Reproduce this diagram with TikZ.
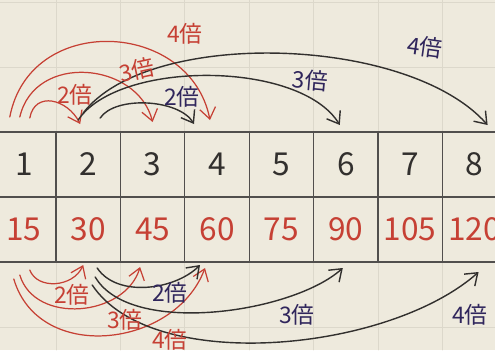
\documentclass[tikz,border=0pt]{standalone}
\usepackage{fontspec}
\setmainfont{Noto Sans CJK JP}
\usetikzlibrary{arrows.meta,positioning,calc}
\definecolor{paper}{RGB}{238,234,221}
\definecolor{gridgray}{RGB}{220,216,203}
\definecolor{inkred}{RGB}{198,64,52}
\definecolor{inkblack}{RGB}{50,48,46}
\definecolor{inknavy}{RGB}{48,38,92}

\begin{document}
\begin{tikzpicture}[>={Straight Barb[length=2.2mm,width=3.2mm]},line cap=round,
  cellbox/.style={draw=inkblack!85,line width=0.7pt,minimum width=1.288cm,minimum height=1.3cm,
    inner sep=0pt,outer sep=0pt,font=\fontsize{18}{18}\selectfont},
  redarc/.style={->,inkred,line width=0.7pt},
  blkarc/.style={->,inkblack,line width=0.8pt},
  redlbl/.style={inkred,font=\fontsize{13}{13}\selectfont},
  navylbl/.style={inknavy,font=\fontsize{13}{13}\selectfont}]
\fill[paper] (0,0) rectangle (9.9,7);
\useasboundingbox (0,0) rectangle (9.9,7);
% paper grid
\foreach \i in {-1,...,7} \draw[gridgray,line width=0.4pt] (1.12+1.288*\i,0) -- (1.12+1.288*\i,7);
\foreach \j in {0,...,5} \draw[gridgray,line width=0.4pt] (0,0.46+1.3*\j) -- (9.9,0.46+1.3*\j);
% table
\node[cellbox,text=inkblack] (c1) at (0.476,3.71) {1};
\foreach \k [remember=\k as \p (initially 1)] in {2,...,8}
  \node[cellbox,text=inkblack,right=0pt of c\p] (c\k) {\k};
\foreach \k [evaluate=\k as \v using int(15*\k)] in {1,...,8}
  \node[cellbox,text=inkred,below=0pt of c\k] (d\k) {\v};
% arcs above
\draw[redarc] ($(c1.north)+(0.12,0.28)$) .. controls +(0.1,0.55) and +(-0.25,0.5) .. ($(c2.north)+(-0.16,0.16)$);
\draw[redarc] ($(c1.north)+(-0.08,0.3)$) .. controls +(0.3,1.3) and +(-0.3,1.2) .. ($(c3.north)+(0,0.2)$);
\draw[redarc] ($(c1.north)+(-0.28,0.3)$) .. controls +(0.4,2.1) and +(-0.4,2.0) .. ($(c4.north)+(-0.14,0.24)$);
\draw[blkarc] ($(c2.north)+(0.24,0.28)$) .. controls +(0.3,0.45) and +(-0.3,0.5) .. ($(c4.north)+(-0.46,0.16)$);
\draw[blkarc] ($(c2.north)+(-0.2,0.24)$) .. controls +(0.8,1.2) and +(-0.8,1.3) .. ($(c6.north)+(-0.12,0.14)$);
\draw[blkarc] ($(c2.north)+(-0.1,0.38)$) .. controls +(1.3,1.7) and +(-1.6,1.8) .. ($(c8.north)+(0.26,0.14)$);
\node[redlbl] (ra2) at (1.5,5.1) {2倍};
\node[redlbl,rotate=12] (ra3) at (2.74,5.6) {3倍};
\node[redlbl] (ra4) at (3.7,6.32) {4倍};
\node[navylbl] (ba2) at (3.64,5.06) {2倍};
\node[navylbl,rotate=-5] (ba3) at (6.2,5.4) {3倍};
\node[navylbl,rotate=-8] (ba4) at (8.5,6.06) {4倍};
% arcs below
\draw[redarc] ($(d1.south)+(0.12,-0.16)$) .. controls +(0.15,-0.4) and +(-0.2,-0.45) .. ($(d2.south)+(-0.1,-0.06)$);
\draw[redarc] ($(d1.south)+(-0.08,-0.26)$) .. controls +(0.3,-1.0) and +(-0.3,-1.0) .. ($(d3.south)+(-0.25,-0.1)$);
\draw[redarc] ($(d1.south)+(-0.2,-0.34)$) .. controls +(0.5,-1.7) and +(-0.6,-1.6) .. ($(d4.south)+(-0.24,-0.12)$);
\draw[blkarc] ($(d2.south)+(0.18,-0.12)$) .. controls +(0.4,-0.6) and +(-0.5,-0.5) .. ($(d4.south)+(-0.34,-0.06)$);
\draw[blkarc] ($(d2.south)+(0.14,-0.3)$) .. controls +(0.7,-1.2) and +(-1.0,-0.9) .. ($(d6.south)+(-0.06,-0.12)$);
\draw[blkarc] ($(d2.south)+(0.08,-0.46)$) .. controls +(1.2,-1.8) and +(-1.8,-1.6) .. ($(d8.south)+(0.08,-0.2)$);
\node[redlbl] (rb2) at (1.44,1.1) {2倍};
\node[redlbl] (rb3) at (2.5,0.6) {3倍};
\node[redlbl] (rb4) at (3.4,0.2) {4倍};
\node[navylbl] (bb2) at (3.4,1.14) {2倍};
\node[navylbl] (bb3) at (5.94,0.7) {3倍};
\node[navylbl] (bb4) at (9.4,0.7) {4倍};
\end{tikzpicture}
\end{document}
